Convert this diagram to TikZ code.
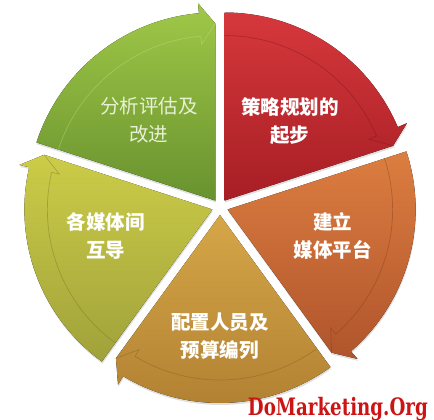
\documentclass[tikz,border=0pt]{standalone}
\usepackage{fontspec}
\usepackage{tikz}
\usepackage{xcolor}
\newfontfamily\cjk{Noto Sans CJK SC}
\newfontfamily\markfont{DejaVu Serif}
\definecolor{redA}{RGB}{214,56,60}
\definecolor{redB}{RGB}{166,30,36}
\definecolor{orangeA}{RGB}{220,126,64}
\definecolor{orangeB}{RGB}{176,84,44}
\definecolor{brownA}{RGB}{214,166,72}
\definecolor{brownB}{RGB}{176,128,50}
\definecolor{oliveA}{RGB}{204,204,72}
\definecolor{oliveB}{RGB}{160,162,58}
\definecolor{greenA}{RGB}{160,200,72}
\definecolor{greenB}{RGB}{104,146,46}
\definecolor{softwhite}{RGB}{232,240,214}
\definecolor{markred}{RGB}{204,20,20}
\usetikzlibrary{shadows}
\tikzstyle{Piece} = [
drop shadow={opacity=0.25, shadow xshift=0.5pt, shadow yshift=-2pt}]
\tikzstyle{Band} = [line width=0.7pt, draw opacity=0.4]
\tikzstyle{Label} = [
align=center, text=white,
font=\cjk\bfseries\fontsize{19.5}{28}\selectfont]
\newcommand{\segment}[4]{%
  \pgfmathsetmacro{\segMid}{#1-36}
  \pgfmathsetmacro{\segEnd}{#1-72}
  \pgfmathsetmacro{\segBack}{#1-67}
  \begin{scope}[shift={(\segMid:8)}]
    \fill[Piece, top color=#2, bottom color=#3] (0,0) -- (#1:188)
      arc[start angle=#1, end angle=\segBack, radius=188pt]
      -- (\segBack:198) -- (\segEnd:177) -- (\segEnd:165) -- cycle;
    \draw[Band, draw=#4] (#1:165)
      arc[start angle=#1, end angle=\segBack, radius=165pt]
      -- (\segBack:157) -- (\segEnd:177);
  \end{scope}}

\begin{document}
\begin{tikzpicture}[x=1pt, y=1pt]
    \useasboundingbox (-220,-213) rectangle (214,207);
    \segment{90}{redA}{redB}{redB!70!black}
    \segment{18}{orangeA}{orangeB}{orangeB!70!black}
    \segment{-54}{brownA}{brownB}{brownB!70!black}
    \segment{-126}{oliveA}{oliveB}{oliveB!70!black}
    \segment{162}{greenA}{greenB}{greenA!60!white}

    \node [Label] (1) at (70,86) {策略规划的\\起步};
    \node [Label] (2) at (113,-29) {建立\\媒体平台};
    \node [Label] (3) at (0,-129) {配置人员及\\预算编列};
    \node [Label] (4) at (-114,-29) {各媒体间\\互导};
    \node [Label, text=softwhite, font=\cjk\fontsize{19.5}{28}\selectfont]
        (5) at (-71,87) {分析评估及\\改进};

    \node [anchor=base east, text=markred, inner sep=0pt,
        font=\markfont\bfseries\fontsize{24}{24}\selectfont]
        (wm) at (208,-208) {\scalebox{0.76}[1]{DoMarketing.Org}};
\end{tikzpicture}
\end{document}
